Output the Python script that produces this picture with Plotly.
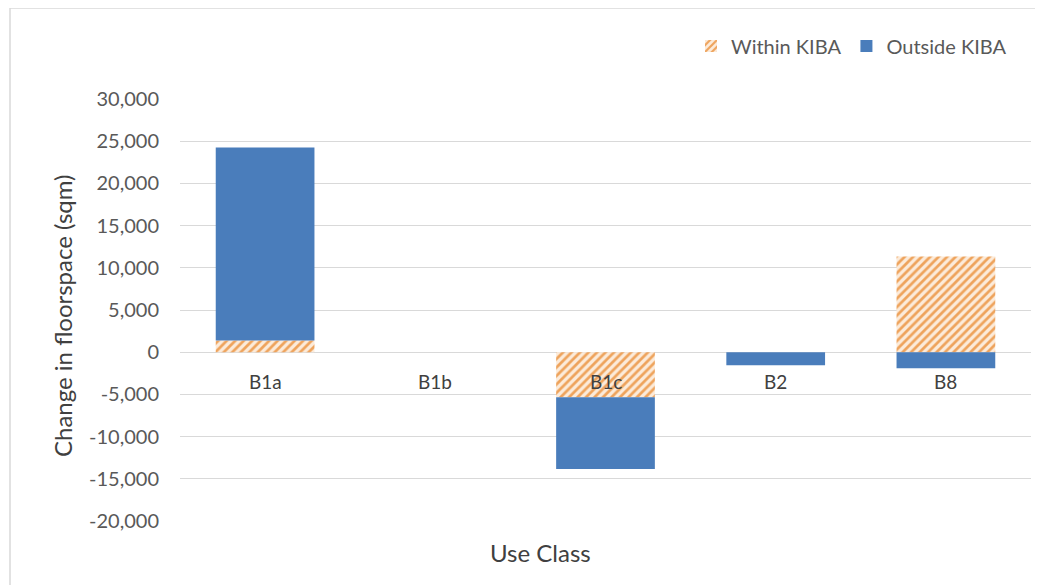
import plotly.graph_objects as go

categories = ["B1a", "B1b", "B1c", "B2", "B8"]
within_kiba = [1400, 0, -5350, 0, 11350]
outside_kiba = [22850, 0, -8500, -1550, -1900]
tick_vals = [-20000, -15000, -10000, -5000, 0, 5000, 10000, 15000, 20000, 25000, 30000]
tick_text = ["-20,000", "-15,000", "-10,000", "-5,000", "0", "5,000", "10,000",
             "15,000", "20,000", "25,000", "30,000"]

OFF = 8  # page body margin
W, H = 1043 - OFF, 585 - OFF
# target pixel positions (in screenshot coordinates)
PL, PR, PT, PB = 180, 1031, 99, 521
L, T = PL - OFF, PT - OFF
R, B = W - (PR - OFF), H - (PB - OFF)
pw, ph = W - L - R, H - T - B

def px_x(x):
    return (x - OFF - L) / pw

def px_y(y):
    return (H - B - (y - OFF)) / ph

font_family = "Lato, Open Sans, sans-serif"

fig = go.Figure()
fig.add_trace(go.Bar(
    x=categories, y=within_kiba, name="Within KIBA",
    marker=dict(color="#FCE9D6", line=dict(width=0),
                pattern=dict(shape="/", fgcolor="#EEA35C", bgcolor="#FCEBDA",
                             size=6, solidity=0.45, fillmode="replace")),
))
fig.add_trace(go.Bar(
    x=categories, y=outside_kiba, name="Outside KIBA",
    marker=dict(color="#4A7DBB", line=dict(width=0)),
))

annotations = []
for c in categories:
    annotations.append(dict(x=c, y=0, xref="x", yref="y", text=c, showarrow=False,
                            xanchor="center", yanchor="middle", yshift=-29,
                            font=dict(family=font_family, size=19, color="#404040")))
annotations.append(dict(x=px_x(540), y=px_y(552), xref="paper", yref="paper",
                        text="Use Class", showarrow=False, xanchor="center", yanchor="middle",
                        font=dict(family=font_family, size=24, color="#404040")))
annotations.append(dict(x=px_x(62), y=px_y(315), xref="paper", yref="paper",
                        text="Change in floorspace (sqm)", showarrow=False, textangle=-90,
                        xanchor="center", yanchor="middle",
                        font=dict(family=font_family, size=24, color="#404040")))

fig.update_layout(
    width=W, height=H,
    margin=dict(l=L, r=R, t=T, b=B),
    plot_bgcolor="white", paper_bgcolor="white",
    barmode="relative", bargap=0.42,
    showlegend=True,
    legend=dict(orientation="h", x=px_x(1012), xanchor="right", y=px_y(46), yanchor="middle",
                font=dict(family=font_family, size=20, color="#595959"),
                itemwidth=30, tracegroupgap=0, bgcolor="rgba(0,0,0,0)"),
    xaxis=dict(showticklabels=False, showgrid=False, zeroline=False, showline=False,
               ticks="", range=[-0.5, 4.5]),
    yaxis=dict(range=[-20000, 30000], tickvals=tick_vals, ticktext=tick_text,
               showgrid=True, gridcolor="#D9D9D9", gridwidth=1,
               zeroline=True, zerolinecolor="#D9D9D9", zerolinewidth=1,
               showline=False, ticks="", ticklabelstandoff=20,
               tickfont=dict(family=font_family, size=20, color="#595959")),
    annotations=annotations,
    shapes=[dict(type="rect", xref="paper", yref="paper",
                 x0=px_x(10), x1=px_x(1050), y0=px_y(600), y1=px_y(8),
                 line=dict(color="#D9D9D9", width=1.5), layer="below")],
)

fig.write_html("out.html")
